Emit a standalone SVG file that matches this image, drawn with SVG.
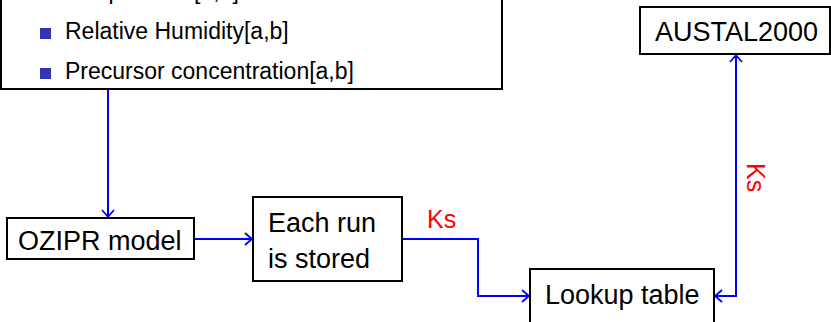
<svg xmlns="http://www.w3.org/2000/svg" width="831" height="322" viewBox="0 0 831 322">
<style>
.box{fill:#fff;stroke:#000;stroke-width:2}
.t{font-family:"Liberation Sans",Arial,sans-serif;font-size:27px;fill:#000}
.li{font-family:"Liberation Sans",Arial,sans-serif;font-size:23px;fill:#000}
.bul{fill:#3333b3}
.c{fill:none;stroke:#0000ff;stroke-width:2}
.lbl{font-family:"Liberation Sans",Arial,sans-serif;font-size:25px;fill:#ff0000}
</style>
<defs>
<marker id="ah" viewBox="-9 -8 11 16" refX="0" refY="0" markerWidth="11" markerHeight="16" markerUnits="userSpaceOnUse" orient="auto-start-reverse">
<path d="M-7,-6 Q-2,-1.5 0,0 Q-2,1.5 -7,6" fill="none" stroke="#0000ff" stroke-width="1.8"/>
</marker>
</defs>
<g id="connectors">
<path class="c" d="M108,89 V217" marker-end="url(#ah)"/>
<path class="c" d="M195,239 H252" marker-end="url(#ah)"/>
<path class="c" d="M403,239 H478 V296 H529" marker-end="url(#ah)"/>
<text class="lbl" x="427" y="228">Ks</text>
<path class="c" d="M715,296 H736 V55" marker-start="url(#ah)" marker-end="url(#ah)"/>
<text class="lbl" transform="translate(747,163) rotate(90)">Ks</text>
</g>
<g id="inputs">
<rect class="box" x="1" y="-60" width="501" height="149"/>
<rect class="bul" x="40" y="-12" width="11" height="11"/>
<text class="li" x="65" y="-1">Temperature[a,b]</text>
<rect class="bul" x="40" y="28" width="11" height="11"/>
<text class="li" x="65" y="39">Relative Humidity[a,b]</text>
<rect class="bul" x="40" y="68" width="11" height="11"/>
<text class="li" x="65" y="79">Precursor concentration[a,b]</text>
</g>
<g id="ozipr">
<rect class="box" x="7" y="218" width="187" height="41"/>
<text class="t" x="18" y="250">OZIPR model</text>
</g>
<g id="stored">
<rect class="box" x="253" y="197" width="149" height="84"/>
<text class="t" x="268" y="232">Each run</text>
<text class="t" x="268" y="268">is stored</text>
</g>
<g id="lookup">
<rect class="box" x="530" y="269" width="184" height="56"/>
<text class="t" x="545" y="304">Lookup table</text>
</g>
<g id="austal">
<rect class="box" x="640" y="7" width="190" height="47"/>
<text class="t" x="655" y="41">AUSTAL2000</text>
</g>
</svg>
